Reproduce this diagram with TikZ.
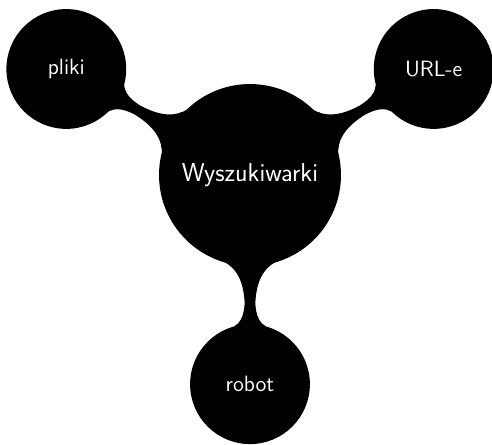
\documentclass[tikz,border=0pt]{standalone}
\usepackage{tikz}
\usetikzlibrary{mindmap}

\begin{document}
\begin{tikzpicture}[mindmap, concept color=black, text=white,
  main/.style = {concept, minimum size=4.29cm, text width=3.9cm, font=\sffamily\fontsize{17.5}{20}\selectfont},
  leaf/.style = {concept, minimum size=2.81cm, text width=2.5cm, font=\sffamily\fontsize{15}{18}\selectfont}]
\useasboundingbox (-5.952,-6.405) rectangle (5.762,4.167);
\node[main] (w) at (0,0) {Wyszukiwarki};
\node[leaf] (p) at (150:5.05cm) {pliki};
\node[leaf] (u) at (30:5.05cm) {URL-e};
\node[leaf] (r) at (270:4.98cm) {robot};
\path (w) to[circle connection bar switch color=from (black) to (black)] (p);
\path (w) to[circle connection bar switch color=from (black) to (black)] (u);
\path (w) to[circle connection bar switch color=from (black) to (black)] (r);
\end{tikzpicture}
\end{document}
